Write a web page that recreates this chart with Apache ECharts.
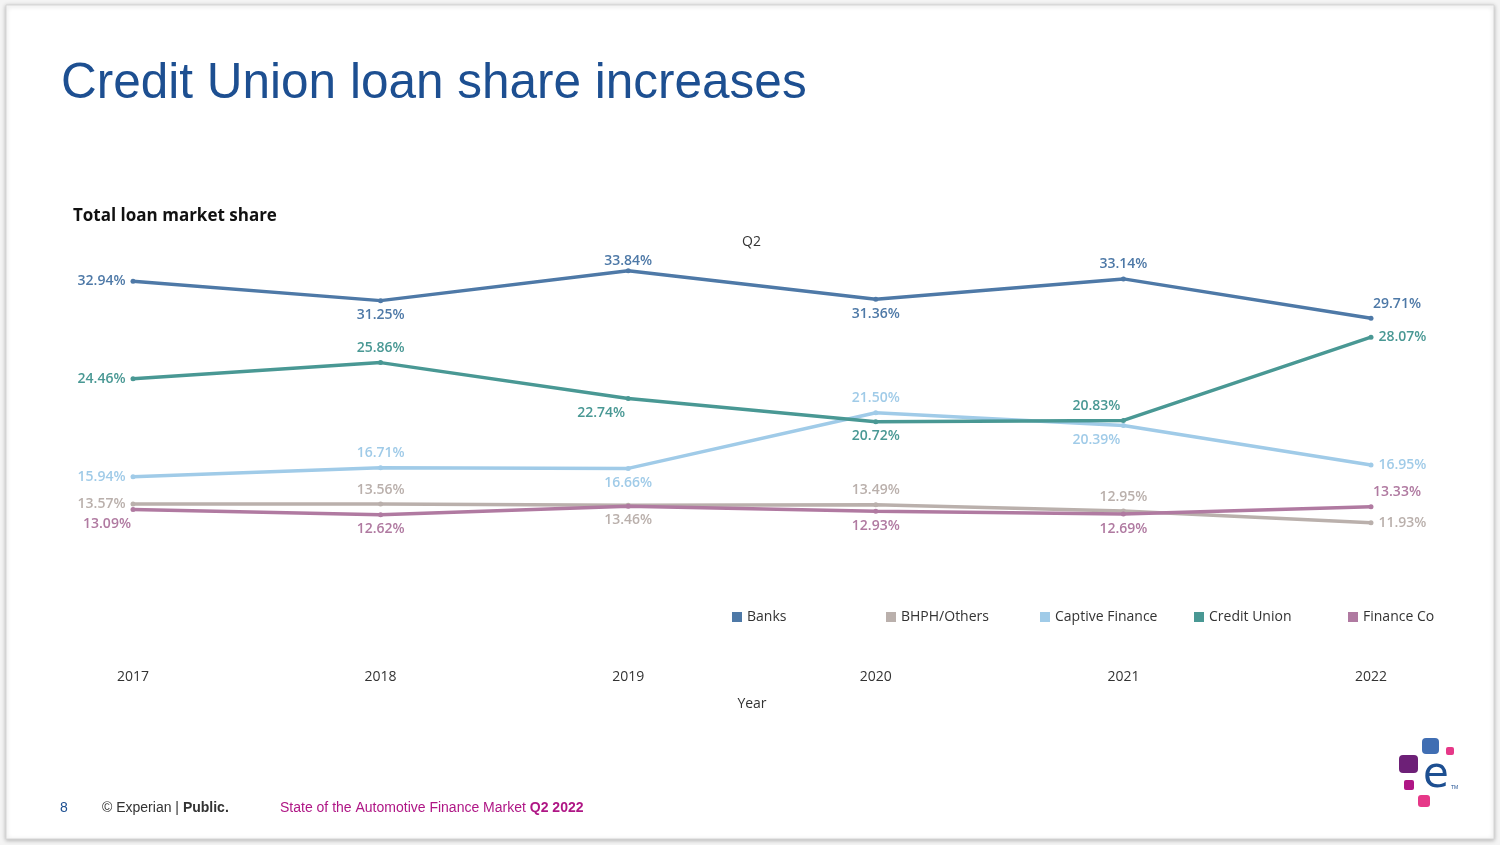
<!DOCTYPE html>
<html>
<head>
<meta charset="utf-8">
<script src="https://cdn.jsdelivr.net/npm/echarts@6/dist/echarts.min.js"></script>
<style>
  html, body { margin: 0; padding: 0; background: #f4f4f4; }
  #chart { width: 1500px; height: 845px; }
</style>
</head>
<body>
<div id="chart"></div>
<script>
// Data (Q2 share of total loans, %).
const years = ['2017', '2018', '2019', '2020', '2021', '2022'];
const banks = [32.94, 31.25, 33.84, 31.36, 33.14, 29.71];
const bhphOthers = [13.57, 13.56, 13.46, 13.49, 12.95, 11.93];
const captiveFinance = [15.94, 16.71, 16.66, 21.50, 20.39, 16.95];
const creditUnion = [24.46, 25.86, 22.74, 20.72, 20.83, 28.07];
const financeCo = [13.09, 12.62, 13.38, 12.93, 12.69, 13.33];

const seriesNames = ['Banks', 'BHPH/Others', 'Captive Finance', 'Credit Union', 'Finance Co'];
const seriesValues = [banks, bhphOthers, captiveFinance, creditUnion, financeCo];
const colors = ['#4e79a7', '#bab0ac', '#a0cbe8', '#499894', '#b07aa1'];

// Label placement per point: [position, dx, dy] or null for hidden.
const placement = [
  [['left', 0, 0], ['bottom', 0, 0], ['top', 0, 5], ['bottom', 0, 0], ['top', 0, 0], ['top', 26, 0]],
  [['left', 0, 0], ['top', 0, 0], ['bottom', 0, 0], ['top', 0, 0], ['top', 0, 0], ['right', 0, 0]],
  [['left', 0, 0], ['top', 0, 0], ['bottom', 0, 0], ['top', 0, 0], ['bottom', -27, 0], ['right', 0, 0]],
  [['left', 0, 0], ['top', 0, 0], ['bottom', -27, 0], ['bottom', 0, 0], ['top', -27, 0], ['right', 0, 0]],
  [['bottom', -26, 0], ['bottom', 0, 0], null, ['bottom', 0, 0], ['bottom', 0, 0], ['top', 26, 0]]
];

const labelFont = '"Open Sans", "Noto Sans", sans-serif';

const series = seriesNames.map((name, s) => ({
  name: name,
  type: 'line',
  symbol: 'circle',
  symbolSize: 5,
  lineStyle: { width: 3.5, color: colors[s] },
  itemStyle: { color: colors[s] },
  z: 2 + s,
  data: seriesValues[s].map((v, i) => {
    const p = placement[s][i];
    return {
      value: v,
      label: p ? {
        show: true,
        position: p[0],
        offset: [p[1], p[2]],
        distance: 5,
        color: colors[s],
        fontSize: 14,
        fontWeight: 600,
        fontFamily: labelFont,
        formatter: (d) => d.value.toFixed(2) + '%'
      } : { show: false }
    };
  })
}));

const legendLefts = [727, 881, 1035, 1189, 1343];
const legends = seriesNames.map((name, s) => ({
  data: [name],
  left: legendLefts[s],
  top: 605,
  icon: 'rect',
  itemWidth: 10,
  itemHeight: 10,
  itemGap: 0,
  selectedMode: false,
  textStyle: { color: '#333', fontSize: 14, fontFamily: labelFont, padding: [0, 0, 0, 0] }
}));

const chart = echarts.init(document.getElementById('chart'), undefined, { renderer: 'canvas' });

chart.setOption({
  backgroundColor: '#f4f4f4',
  animation: false,
  color: colors,
  grid: { left: 133, right: 129, top: 246, bottom: 185 },
  legend: legends,
  xAxis: {
    type: 'category',
    data: years,
    boundaryGap: false,
    axisLine: { show: false },
    axisTick: { show: false },
    axisLabel: { color: '#333', fontSize: 14, fontFamily: labelFont, margin: 10 },
    name: 'Year',
    nameLocation: 'middle',
    nameGap: 37,
    nameTextStyle: { color: '#333', fontSize: 14, fontFamily: labelFont }
  },
  yAxis: {
    type: 'value',
    min: 0,
    max: 36,
    show: false,
    splitLine: { show: false }
  },
  graphic: [
    {
      type: 'rect', z: -10, silent: true,
      shape: { x: 6, y: 5, width: 1488, height: 834 },
      style: { fill: '#ffffff', stroke: '#d6d6d6', lineWidth: 1, shadowBlur: 4, shadowColor: 'rgba(0,0,0,0.25)', shadowOffsetY: 1 }
    },
    {
      type: 'text', left: 61, top: 59,
      style: { text: 'Credit Union loan share increases', fill: '#1d4f91', font: '49.5px "Liberation Sans", Arial, sans-serif' }
    },
    {
      type: 'text', left: 73, top: 208,
      style: { text: 'Total loan market share', fill: '#111', font: 'bold 17px "Open Sans", "Noto Sans", sans-serif' }
    },
    {
      type: 'text', left: 742, top: 235,
      style: { text: 'Q2', fill: '#333', font: '14px "Open Sans", "Noto Sans", sans-serif' }
    },
    {
      type: 'text', left: 60, top: 801,
      style: { text: '8', fill: '#1d4f91', font: '14px "Liberation Sans", Arial, sans-serif' }
    },
    {
      type: 'text', left: 102, top: 801,
      style: {
        text: '© Experian | {b|Public.}',
        fill: '#333', font: '14px "Liberation Sans", Arial, sans-serif',
        rich: { b: { fontWeight: 'bold', fill: '#333', fontSize: 14, fontFamily: '"Liberation Sans", Arial, sans-serif' } }
      }
    },
    {
      type: 'text', left: 280, top: 801,
      style: {
        text: 'State of the Automotive Finance Market {b|Q2 2022}',
        fill: '#af1685', font: '14px "Liberation Sans", Arial, sans-serif',
        rich: { b: { fontWeight: 'bold', fill: '#af1685', fontSize: 14, fontFamily: '"Liberation Sans", Arial, sans-serif' } }
      }
    },
    // Experian logo
    { type: 'rect', shape: { x: 1422, y: 738, width: 17, height: 16, r: 4 }, style: { fill: '#406eb3' } },
    { type: 'rect', shape: { x: 1446, y: 747, width: 8, height: 8, r: 2 }, style: { fill: '#e63888' } },
    { type: 'rect', shape: { x: 1399, y: 755, width: 19, height: 18, r: 4 }, style: { fill: '#6d2077' } },
    { type: 'rect', shape: { x: 1404, y: 780, width: 10, height: 10, r: 2 }, style: { fill: '#af1685' } },
    { type: 'rect', shape: { x: 1418, y: 795, width: 12, height: 12, r: 3 }, style: { fill: '#e63888' } },
    {
      type: 'text', left: 1423, top: 755,
      style: { text: 'e', fill: '#1d4f91', font: '42px "DejaVu Sans", sans-serif' }
    },
    {
      type: 'text', left: 1451, top: 785,
      style: { text: 'TM', fill: '#1d4f91', font: '5px "Liberation Sans", Arial, sans-serif' }
    }
  ],
  series: series
});
</script>
</body>
</html>
